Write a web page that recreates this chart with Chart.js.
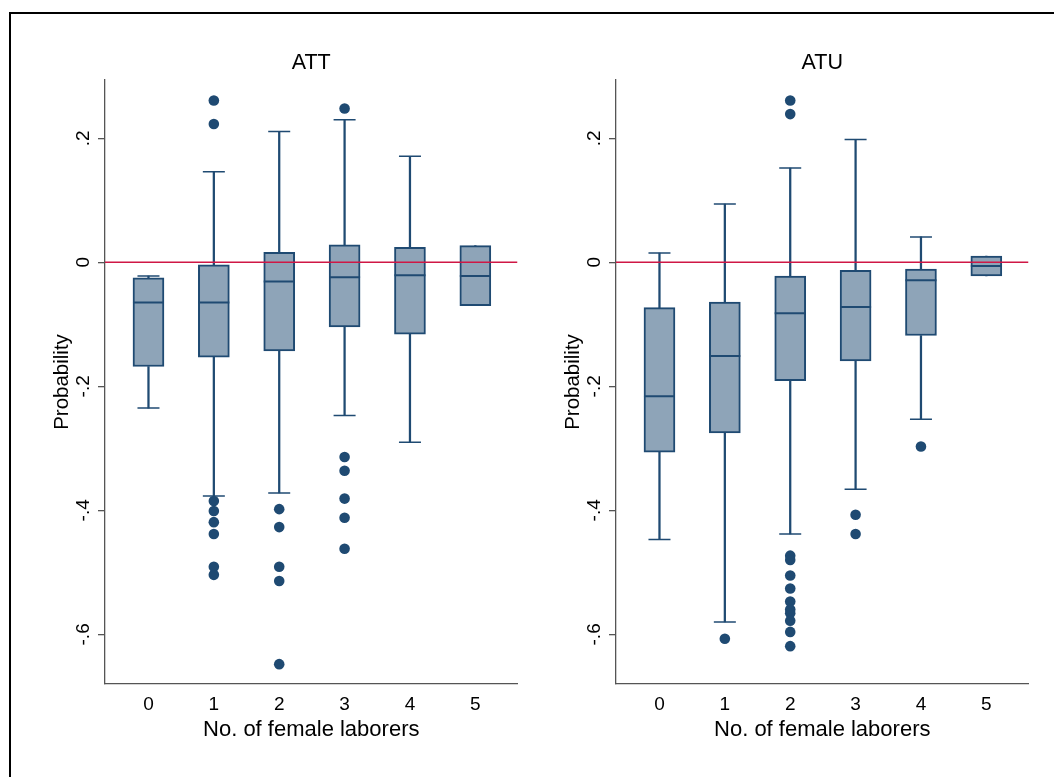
<!DOCTYPE html>
<html>
<head>
<meta charset="utf-8">
<script src="https://cdn.jsdelivr.net/npm/chart.js@4.4.1/dist/chart.umd.min.js"></script>
<style>
  html, body { margin: 0; padding: 0; background: #fff; }
  #page { position: relative; width: 1054px; height: 777px; overflow: hidden; background: #fff; }
  #frame { position: absolute; left: 9px; top: 12px; width: 1100px; height: 820px; border: 2px solid #000; box-sizing: border-box; }
  #attChart { position: absolute; left: 0; top: 0; }
  #atuChart { position: absolute; left: 511px; top: 0; }
</style>
</head>
<body>
<div id="page">
  <div id="frame"></div>
  <canvas id="attChart" width="536" height="777"></canvas>
  <canvas id="atuChart" width="543" height="777"></canvas>
</div>
<script>
// categories: number of female laborers
var categories = [0, 1, 2, 3, 4, 5];

// ATT box plot values (lower whisker, q1, median, q3, upper whisker)
var attLo  = [-0.235, -0.377, -0.372, -0.247, -0.290, -0.070];
var attQ1  = [-0.168, -0.153, -0.143, -0.104, -0.116, -0.070];
var attMed = [-0.065, -0.065, -0.031, -0.024, -0.021, -0.022];
var attQ3  = [-0.025, -0.004, 0.016, 0.028, 0.024, 0.027];
var attHi  = [-0.022, 0.146, 0.211, 0.230, 0.171, 0.027];
var attOut = [
    [],
    [0.261, 0.223, -0.385, -0.401, -0.419, -0.438, -0.491, -0.504],
    [-0.398, -0.427, -0.491, -0.514, -0.648],
    [0.248, -0.314, -0.336, -0.381, -0.412, -0.462],
    [],
    []
];

// ATU box plot values
var atuLo  = [-0.447, -0.580, -0.438, -0.366, -0.253, -0.022];
var atuQ1  = [-0.306, -0.275, -0.191, -0.159, -0.118, -0.022];
var atuMed = [-0.216, -0.151, -0.082, -0.072, -0.029, -0.006];
var atuQ3  = [-0.073, -0.064, -0.022, -0.013, -0.011, 0.010];
var atuHi  = [0.015, 0.094, 0.152, 0.198, 0.041, 0.010];
var atuOut = [
    [],
    [-0.607],
    [0.261, 0.239, -0.473, -0.480, -0.505, -0.526, -0.547, -0.560, -0.566, -0.578, -0.596, -0.619],
    [-0.407, -0.438],
    [-0.297],
    []
];

// axis ticks
var yTicks = [-0.6, -0.4, -0.2, 0, 0.2];
var yTickLabels = ["-.6", "-.4", "-.2", "0", ".2"];
var yMin = -0.68, yMax = 0.294;
var xMin = -0.665, xMax = 5.645;
var refLine = 0;

var navy = "#1f4a72";
var boxFill = "#8ea4b8";
var red = "#cf1745";
var axisGray = "#555555";

Chart.defaults.font.family = "'Liberation Sans', Arial, sans-serif";
Chart.defaults.color = "#000";

function makePanel(canvasId, title, lo, q1, med, q3, hi, out, padRight) {
    var boxes = categories.map(function (c, i) { return { x: c, y: [q1[i], q3[i]] }; });
    var lowWhisk = categories.map(function (c, i) { return { x: c, y: [lo[i], q1[i]] }; });
    var highWhisk = categories.map(function (c, i) { return { x: c, y: [q3[i], hi[i]] }; });
    var medians = categories.map(function (c, i) { return { x: c, y: med[i] }; });
    var caps = [];
    categories.forEach(function (c, i) {
        if (lo[i] !== q1[i]) caps.push({ x: c, y: lo[i] });
        if (hi[i] !== q3[i]) caps.push({ x: c, y: hi[i] });
    });
    var outliers = [];
    categories.forEach(function (c, i) {
        out[i].forEach(function (v) { outliers.push({ x: c, y: v }); });
    });

    var ctx = document.getElementById(canvasId).getContext("2d");
    return new Chart(ctx, {
        type: "bar",
        data: {
            datasets: [
                {
                    type: "line",
                    data: [{ x: xMin, y: refLine }, { x: xMax, y: refLine }],
                    borderColor: red,
                    borderWidth: 1.5,
                    pointRadius: 0,
                    order: 1
                },
                {
                    type: "scatter",
                    data: outliers,
                    pointStyle: "circle",
                    pointRadius: 5.3,
                    backgroundColor: navy,
                    borderWidth: 0,
                    order: 2
                },
                {
                    type: "scatter",
                    data: medians,
                    pointStyle: "line",
                    pointRadius: 15.5,
                    borderColor: navy,
                    borderWidth: 2,
                    order: 3
                },
                {
                    type: "scatter",
                    data: caps,
                    pointStyle: "line",
                    pointRadius: 11,
                    borderColor: navy,
                    borderWidth: 1.5,
                    order: 3
                },
                {
                    data: boxes,
                    backgroundColor: boxFill,
                    borderColor: navy,
                    borderWidth: 2,
                    borderSkipped: false,
                    barThickness: 31,
                    grouped: false,
                    order: 4
                },
                {
                    data: lowWhisk,
                    backgroundColor: navy,
                    borderWidth: 0,
                    barThickness: 1.6,
                    grouped: false,
                    order: 5
                },
                {
                    data: highWhisk,
                    backgroundColor: navy,
                    borderWidth: 0,
                    barThickness: 1.6,
                    grouped: false,
                    order: 5
                }
            ]
        },
        options: {
            responsive: false,
            animation: false,
            devicePixelRatio: 1,
            layout: { padding: { left: 0, top: 0, right: padRight, bottom: 0 } },
            plugins: {
                legend: { display: false },
                tooltip: { enabled: false },
                title: {
                    display: true,
                    fullSize: false,
                    text: title,
                    font: { size: 21.5, weight: "normal" },
                    color: "#000",
                    padding: { top: 50.5, bottom: 3.7 }
                }
            },
            scales: {
                x: {
                    type: "linear",
                    min: xMin,
                    max: xMax,
                    offset: false,
                    afterBuildTicks: function (s) { s.ticks = categories.map(function (v) { return { value: v }; }); },
                    afterFit: function (s) { s.height = 93; },
                    grid: { display: false, drawTicks: false },
                    border: { display: true, color: axisGray, width: 1.3 },
                    ticks: {
                        font: { size: 19 },
                        color: "#000",
                        padding: 9,
                        maxRotation: 0,
                        autoSkip: false
                    },
                    title: {
                        display: true,
                        text: "No. of female laborers",
                        font: { size: 22 },
                        color: "#000",
                        padding: { top: 0, bottom: 34 }
                    }
                },
                y: {
                    min: yMin,
                    max: yMax,
                    afterBuildTicks: function (s) { s.ticks = yTicks.map(function (v) { return { value: v }; }); },
                    afterFit: function (s) { s.width = 105; },
                    grid: {
                        display: true,
                        drawOnChartArea: false,
                        drawTicks: true,
                        tickLength: 7,
                        color: axisGray,
                        lineWidth: 1.3
                    },
                    border: { display: true, color: axisGray, width: 1.3 },
                    ticks: {
                        minRotation: 90,
                        maxRotation: 90,
                        crossAlign: "center",
                        padding: 3,
                        font: { size: 19 },
                        color: "#000",
                        callback: function (value, index) { return yTickLabels[index]; }
                    },
                    title: {
                        display: true,
                        text: "Probability",
                        font: { size: 20.5 },
                        color: "#000",
                        padding: { top: 50.5, bottom: 0 }
                    }
                }
            }
        }
    });
}

makePanel("attChart", "ATT", attLo, attQ1, attMed, attQ3, attHi, attOut, 18.5);
makePanel("atuChart", "ATU", atuLo, atuQ1, atuMed, atuQ3, atuHi, atuOut, 25.5);
</script>
</body>
</html>
